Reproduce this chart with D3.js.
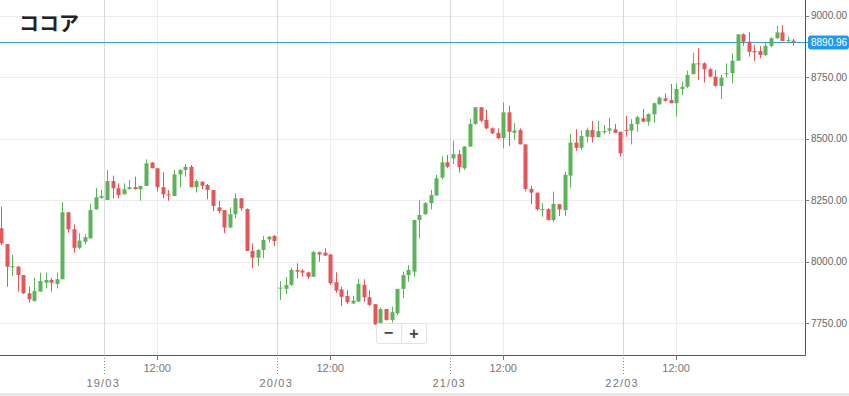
<!DOCTYPE html>
<html>
<head>
<meta charset="utf-8">
<script src="https://cdn.jsdelivr.net/npm/d3@7/dist/d3.min.js"></script>
<style>
  html, body { margin: 0; padding: 0; background: #fff; }
  svg { display: block; font-family: "Liberation Sans", Arial, sans-serif; }
</style>
</head>
<body>
<svg id="chart" width="849" height="396"></svg>
<script>
// cocoa, 143 candles over 19/03 - 22/03
const title = "ココア";

const opens = [
  8136, 8072, 7979, 7980, 7946, 7872, 7841, 7879, 7915, 7926,
  7910, 7929, 8201, 8132, 8057, 8082, 8095, 8213, 8260, 8251,
  8328, 8299, 8274, 8295, 8303, 8295, 8308, 8403, 8380, 8303,
  8274, 8267, 8355, 8373, 8386, 8303, 8325, 8312, 8292, 8221,
  8210, 8139, 8193, 8258, 8214, 8044, 8017, 8048, 8091, 8105,
  7892, 7890, 7906, 7967, 7964, 7957, 7939, 8039, 8037, 8030,
  7917, 7888, 7861, 7831, 7838, 7906, 7856, 7828, 7746, 7808,
  7764, 7791, 7890, 7946, 7960, 8170, 8193, 8238, 8269, 8342,
  8404, 8420, 8437, 8380, 8468, 8560, 8628, 8576, 8542, 8524,
  8502, 8607, 8524, 8535, 8477, 8296, 8281, 8212, 8214, 8170,
  8234, 8210, 8350, 8484, 8463, 8508, 8535, 8506, 8526, 8533,
  8538, 8528, 8535, 8533, 8559, 8583, 8569, 8599, 8640, 8664,
  8657, 8644, 8702, 8711, 8762, 8806, 8806, 8782, 8752, 8714,
  8762, 8766, 8817, 8924, 8894, 8856, 8856, 8840, 8877, 8908,
  8932, 8898, 8898
];
const highs = [
  8224, 8072, 8028, 7983, 7946, 7899, 7935, 7956, 7956, 7935,
  7957, 8242, 8201, 8152, 8116, 8113, 8235, 8299, 8292, 8373,
  8350, 8319, 8319, 8332, 8346, 8308, 8416, 8405, 8380, 8364,
  8292, 8373, 8377, 8397, 8393, 8335, 8328, 8316, 8292, 8248,
  8210, 8221, 8278, 8258, 8217, 8075, 8052, 8105, 8105, 8109,
  7922, 7938, 7976, 7994, 7970, 7960, 8044, 8041, 8055, 8030,
  7957, 7899, 7885, 7862, 7930, 7929, 7885, 7828, 7815, 7808,
  7818, 7890, 7960, 7987, 8170, 8251, 8244, 8292, 8353, 8430,
  8434, 8492, 8454, 8470, 8580, 8628, 8628, 8617, 8546, 8542,
  8648, 8634, 8563, 8542, 8477, 8309, 8281, 8238, 8217, 8285,
  8235, 8366, 8519, 8539, 8533, 8545, 8572, 8572, 8556, 8585,
  8560, 8528, 8593, 8579, 8593, 8621, 8603, 8646, 8671, 8684,
  8722, 8725, 8732, 8776, 8849, 8867, 8810, 8788, 8779, 8759,
  8806, 8847, 8925, 8928, 8932, 8881, 8877, 8894, 8912, 8958,
  8962, 8914, 8905
];
const lows = [
  8068, 7899, 7942, 7879, 7869, 7834, 7838, 7879, 7892, 7879,
  7892, 7929, 8118, 8037, 8051, 8071, 8095, 8213, 8256, 8251,
  8258, 8258, 8274, 8294, 8294, 8248, 8308, 8380, 8285, 8258,
  8248, 8267, 8303, 8346, 8303, 8281, 8295, 8254, 8206, 8197,
  8116, 8139, 8177, 8208, 8044, 7974, 7984, 8014, 8078, 8064,
  7845, 7869, 7902, 7933, 7939, 7930, 7939, 8000, 8025, 7906,
  7874, 7820, 7828, 7828, 7838, 7838, 7820, 7743, 7727, 7761,
  7753, 7784, 7852, 7919, 7939, 8095, 8190, 8213, 8269, 8335,
  8380, 8397, 8362, 8373, 8468, 8556, 8567, 8538, 8518, 8499,
  8461, 8470, 8495, 8477, 8285, 8234, 8208, 8183, 8167, 8163,
  8186, 8186, 8301, 8450, 8454, 8485, 8485, 8506, 8519, 8519,
  8524, 8427, 8508, 8477, 8528, 8569, 8553, 8565, 8637, 8650,
  8644, 8589, 8678, 8705, 8762, 8738, 8728, 8749, 8711, 8661,
  8749, 8725, 8817, 8877, 8833, 8816, 8827, 8836, 8871, 8905,
  8897, 8890, 8878
];
const closes = [
  8075, 7980, 7982, 7946, 7872, 7848, 7881, 7922, 7926, 7915,
  7929, 8201, 8132, 8057, 8086, 8100, 8210, 8262, 8267, 8328,
  8299, 8271, 8295, 8303, 8295, 8308, 8400, 8380, 8303, 8274,
  8271, 8355, 8373, 8386, 8303, 8328, 8309, 8292, 8227, 8206,
  8139, 8193, 8258, 8217, 8044, 8017, 8048, 8089, 8102, 8084,
  7895, 7906, 7967, 7960, 7956, 7939, 8040, 8030, 8025, 7913,
  7883, 7858, 7836, 7842, 7910, 7856, 7825, 7746, 7808, 7764,
  7795, 7890, 7946, 7967, 8170, 8190, 8238, 8271, 8339, 8404,
  8386, 8437, 8384, 8468, 8560, 8628, 8573, 8542, 8522, 8502,
  8607, 8528, 8533, 8477, 8296, 8281, 8213, 8214, 8170, 8235,
  8213, 8353, 8484, 8463, 8511, 8535, 8506, 8531, 8531, 8542,
  8524, 8441, 8533, 8560, 8587, 8569, 8600, 8644, 8667, 8654,
  8644, 8702, 8711, 8759, 8806, 8802, 8782, 8752, 8715, 8748,
  8766, 8817, 8924, 8894, 8853, 8851, 8840, 8877, 8908, 8932,
  8897, 8901, 8890.96
];

const lastPrice = 8890.96;
const priceTicks = [7750, 8000, 8250, 8500, 8750, 9000];

// x axis: first candle of each day, and the 12:00 candle of each day
const dayLabels = ["19/03", "20/03", "21/03", "22/03"];
const dayStartIdx = [19, 50, 81, 112];
const noonIdx = [28, 59, 90, 121];
const noonLabel = "12:00";

const upColor = "#5cb35a";
const downColor = "#e3565a";

const plotRight = 805, plotBottom = 355;
const svg = d3.select("#chart");

const candles = closes.map((c, i) => ({ i, o: opens[i], h: highs[i], l: lows[i], c }));

const x = d3.scaleLinear().domain([0, candles.length - 1]).range([1, 793.3]);
const y = d3.scaleLinear().domain([7621.4, 9063.4]).range([plotBottom, 0]);

// bottom strip of the widget
svg.append("rect").attr("x", 0).attr("y", 393).attr("width", 849).attr("height", 3).attr("fill", "#e8e8e8");

// grid
const grid = svg.append("g");
grid.selectAll(".hg").data(priceTicks).enter().append("line")
  .attr("x1", 0).attr("x2", plotRight)
  .attr("y1", d => Math.round(y(d)) + 0.5).attr("y2", d => Math.round(y(d)) + 0.5)
  .attr("stroke", "#ececec");
grid.selectAll(".ng").data(noonIdx).enter().append("line")
  .attr("x1", d => Math.round(x(d)) + 0.5).attr("x2", d => Math.round(x(d)) + 0.5)
  .attr("y1", 0).attr("y2", plotBottom)
  .attr("stroke", "#ececec");
grid.selectAll(".dg").data(dayStartIdx).enter().append("line")
  .attr("x1", d => Math.round(x(d - 0.5)) + 0.5).attr("x2", d => Math.round(x(d - 0.5)) + 0.5)
  .attr("y1", 0).attr("y2", plotBottom)
  .attr("stroke", "#d9d9d9");

// title
svg.append("text")
  .attr("x", 19).attr("y", 31)
  .attr("font-family", "'Noto Sans CJK JP', sans-serif")
  .attr("font-size", 20)
  .attr("font-weight", 700)
  .attr("fill", "#222")
  .text(title);

// last price line
const yLast = Math.round(y(lastPrice)) + 0.5;
svg.append("line")
  .attr("x1", 0).attr("x2", plotRight + 3)
  .attr("y1", yLast).attr("y2", yLast)
  .attr("stroke", "#3d9fc2").attr("stroke-width", 1);

// candles
const cg = svg.selectAll(".candle").data(candles).enter().append("g").attr("class", "candle");
cg.append("line")
  .attr("x1", d => Math.round(x(d.i)) + 0.5).attr("x2", d => Math.round(x(d.i)) + 0.5)
  .attr("y1", d => y(d.h)).attr("y2", d => y(d.l))
  .attr("stroke", d => d.c >= d.o ? upColor : downColor);
cg.append("rect")
  .attr("x", d => Math.round(x(d.i)) - 1.5)
  .attr("width", 4)
  .attr("y", d => y(Math.max(d.o, d.c)))
  .attr("height", d => Math.max(1, Math.abs(y(d.o) - y(d.c))))
  .attr("fill", d => d.c >= d.o ? upColor : downColor);

// frame
svg.append("line").attr("x1", plotRight + 0.5).attr("x2", plotRight + 0.5)
  .attr("y1", 0).attr("y2", plotBottom + 0.5).attr("stroke", "#555");
svg.append("line").attr("x1", 0).attr("x2", plotRight + 0.5)
  .attr("y1", plotBottom + 0.5).attr("y2", plotBottom + 0.5).attr("stroke", "#555");

// y axis
const ya = svg.append("g");
ya.selectAll(".yt").data(priceTicks).enter().append("line")
  .attr("x1", plotRight).attr("x2", plotRight + 4)
  .attr("y1", d => Math.round(y(d)) + 0.5).attr("y2", d => Math.round(y(d)) + 0.5)
  .attr("stroke", "#777");
ya.selectAll(".yl").data(priceTicks).enter().append("text")
  .attr("x", plotRight + 6).attr("y", d => y(d))
  .attr("dy", "0.35em")
  .attr("font-size", 10).attr("fill", "#666")
  .text(d => d3.format(".2f")(d));

// last price tag
svg.append("rect")
  .attr("x", plotRight + 3).attr("y", y(lastPrice) - 7)
  .attr("width", 41).attr("height", 14).attr("rx", 3)
  .attr("fill", "#2399ee");
svg.append("text")
  .attr("x", plotRight + 6).attr("y", y(lastPrice))
  .attr("dy", "0.35em")
  .attr("font-size", 10).attr("fill", "#fff")
  .text(d3.format(".2f")(lastPrice));

// x axis
const xa = svg.append("g");
xa.selectAll(".nt").data(noonIdx).enter().append("line")
  .attr("x1", d => Math.round(x(d)) + 0.5).attr("x2", d => Math.round(x(d)) + 0.5)
  .attr("y1", plotBottom).attr("y2", plotBottom + 5)
  .attr("stroke", "#777");
xa.selectAll(".nl").data(noonIdx).enter().append("text")
  .attr("x", d => x(d)).attr("y", plotBottom + 17)
  .attr("text-anchor", "middle")
  .attr("font-size", 11).attr("fill", "#777")
  .text(noonLabel);
xa.selectAll(".dt").data(dayStartIdx).enter().append("line")
  .attr("x1", d => Math.round(x(d - 0.5)) + 0.5).attr("x2", d => Math.round(x(d - 0.5)) + 0.5)
  .attr("y1", plotBottom).attr("y2", plotBottom + 19)
  .attr("stroke", "#888").attr("stroke-dasharray", "1,2");
xa.selectAll(".dl").data(dayStartIdx).enter().append("text")
  .attr("x", d => x(d - 0.5) - 1).attr("y", plotBottom + 32)
  .attr("text-anchor", "middle")
  .attr("font-size", 11).attr("letter-spacing", 1.2).attr("fill", "#777")
  .text((d, k) => dayLabels[k]);

// zoom buttons
const zb = svg.append("g").attr("transform", "translate(376,323)");
zb.append("rect").attr("x", 0.5).attr("y", 0.5).attr("width", 50).attr("height", 20).attr("rx", 2)
  .attr("fill", "#fff").attr("stroke", "#e2e2e2");
zb.append("line").attr("x1", 25.5).attr("x2", 25.5).attr("y1", 1).attr("y2", 20).attr("stroke", "#e2e2e2");
zb.append("text").attr("x", 12.5).attr("y", 15).attr("text-anchor", "middle")
  .attr("font-size", 16).attr("font-weight", "bold").attr("fill", "#444").text("−");
zb.append("text").attr("x", 38).attr("y", 15.5).attr("text-anchor", "middle")
  .attr("font-size", 16).attr("font-weight", "bold").attr("fill", "#444").text("+");
</script>
</body>
</html>
